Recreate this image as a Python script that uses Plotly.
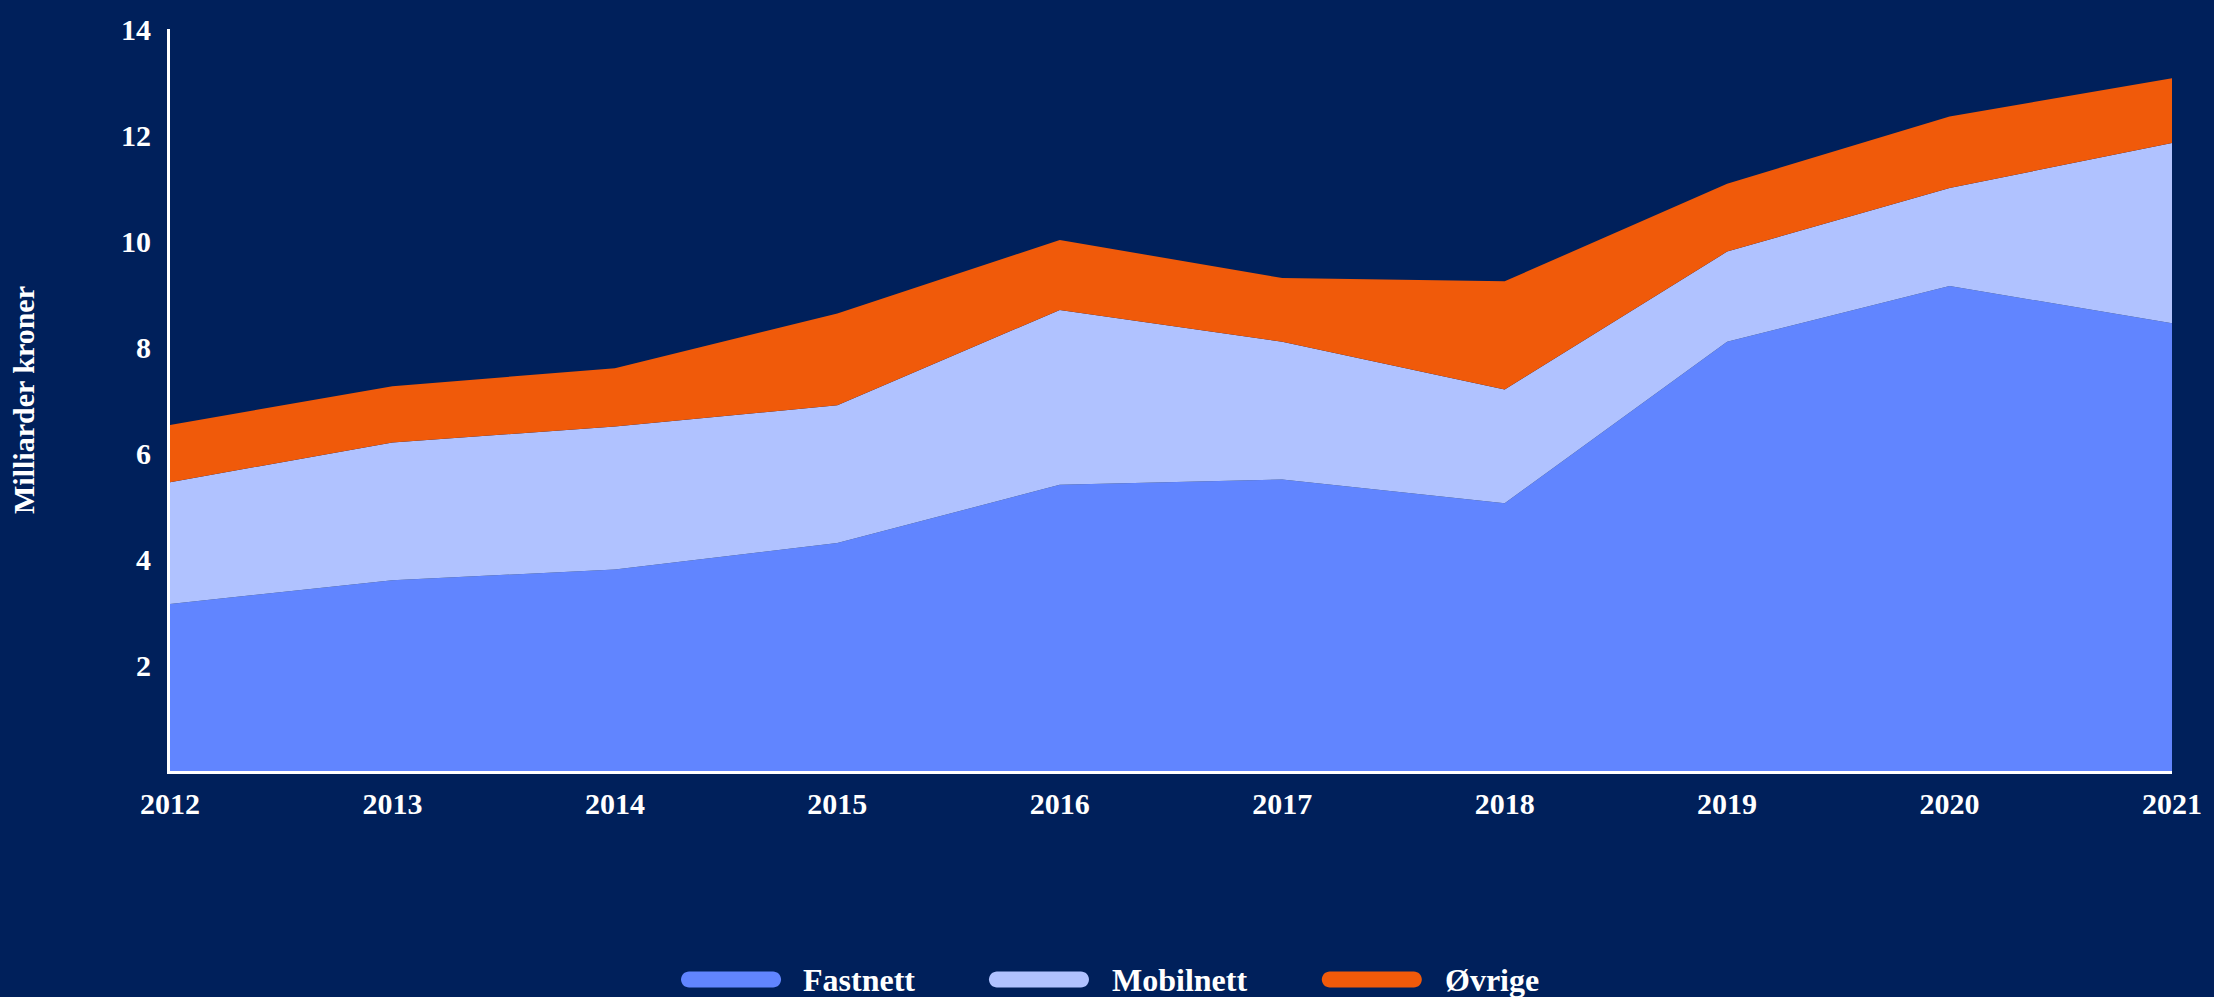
import plotly.graph_objects as go

years = [2012, 2013, 2014, 2015, 2016, 2017, 2018, 2019, 2020, 2021]
fastnett = [3.15, 3.6, 3.8, 4.3, 5.4, 5.5, 5.05, 8.1, 9.15, 8.45]
mobilnett = [2.3, 2.6, 2.7, 2.6, 3.3, 2.6, 2.15, 1.7, 1.85, 3.4]
ovrige = [1.08, 1.06, 1.1, 1.73, 1.32, 1.2, 2.04, 1.28, 1.35, 1.22]
y_ticks = [2, 4, 6, 8, 10, 12, 14]

series_names = ["Fastnett", "Mobilnett", "Øvrige"]
series_values = [fastnett, mobilnett, ovrige]
colors = ["#6185FF", "#B0C2FF", "#F05A0A"]

BG = "#00205B"
FONT = "Liberation Serif"

fig = go.Figure()
for name, vals, col in zip(series_names, series_values, colors):
    fig.add_trace(go.Scatter(
        x=years, y=vals, name=name, mode="lines",
        stackgroup="one", line=dict(width=0, color=col),
        fillcolor=col, showlegend=False,
        hovertemplate="%{x}: %{y}<extra>" + name + "</extra>",
    ))

W, H = 2214, 997
ml, mr, mt, mb = 170, 35, 24, 226
pw, ph = W - ml - mr, H - mt - mb

def px_to_paper(px, py):
    return (px - ml) / pw, (H - mb - py) / ph

# custom pill legend
legend_items = [(733, 803), (1042, 1113), (1376, 1447)]
k = 4.42
pill = ("M -42 -8 L 42 -8 C %.2f -8 50 %.2f 50 0 C 50 %.2f %.2f 8 42 8 "
        "L -42 8 C %.2f 8 -50 %.2f -50 0 C -50 %.2f %.2f -8 -42 -8 Z") % (
    42 + k, -k, k, 42 + k, -42 - k, k, -k, -42 - k)
shapes = []
annotations = []
for (cx, tx), name, col in zip(legend_items, series_names, colors):
    ax, ay = px_to_paper(cx, 981)
    shapes.append(dict(type="path", xref="paper", yref="paper",
                       xsizemode="pixel", ysizemode="pixel",
                       xanchor=ax, yanchor=ay, path=pill,
                       fillcolor=col, line=dict(width=0)))
    tx_p, ty_p = px_to_paper(tx, 981)
    annotations.append(dict(text=name, xref="paper", yref="paper",
                            x=tx_p, y=ty_p, xanchor="left", yanchor="middle",
                            showarrow=False,
                            font=dict(family=FONT, size=32, color="white", weight="bold")))

fig.update_layout(
    width=W, height=H,
    paper_bgcolor=BG, plot_bgcolor=BG,
    margin=dict(l=ml, r=mr, t=mt, b=mb),
    showlegend=False,
    shapes=shapes, annotations=annotations,
    font=dict(family=FONT, size=30, color="white", weight="bold"),
    xaxis=dict(
        range=[2012, 2021], tickvals=years, ticktext=[str(y) for y in years],
        showgrid=False, zeroline=False, showline=True, linecolor="white",
        linewidth=3, ticks="", ticklabelstandoff=4,
        tickfont=dict(family=FONT, size=30, color="white", weight="bold"),
    ),
    yaxis=dict(
        range=[0, 14], tickvals=y_ticks, showgrid=False, zeroline=False,
        showline=True, linecolor="white", linewidth=3, ticks="",
        ticklabelstandoff=10,
        tickfont=dict(family=FONT, size=30, color="white", weight="bold"),
        title=dict(text="Milliarder kroner", standoff=78,
                   font=dict(family=FONT, size=30, color="white", weight="bold")),
    ),
)

fig.write_html("out.html",
               config={"displayModeBar": False},
               post_script="document.body.style.margin='0';document.body.style.overflow='hidden';")
